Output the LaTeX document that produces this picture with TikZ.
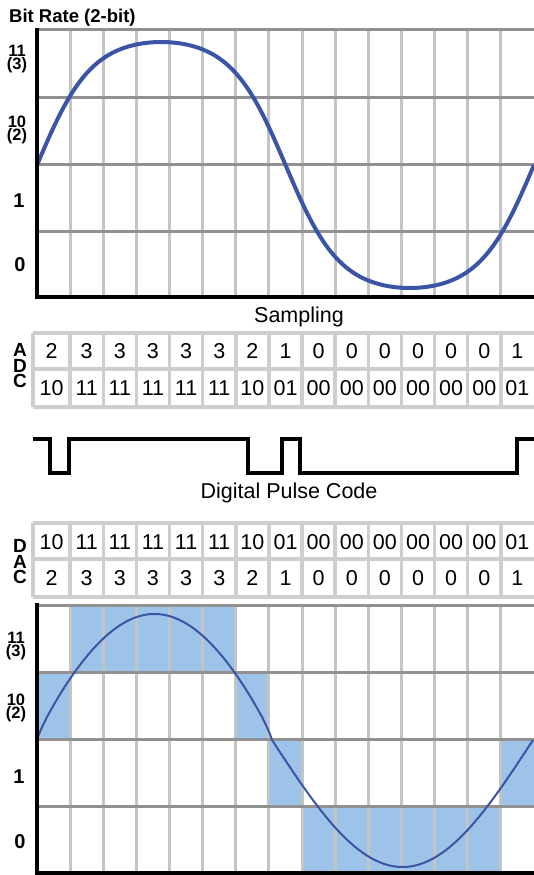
\documentclass[tikz,border=0pt]{standalone}
\usepackage{fontspec}
\setmainfont{Liberation Sans}
\definecolor{gridlight}{RGB}{196,196,196}
\definecolor{griddark}{RGB}{145,145,145}
\definecolor{cellgray}{RGB}{206,206,206}
\definecolor{wave}{RGB}{58,84,166}
\definecolor{sampleblue}{RGB}{157,196,232}

\begin{document}
\begin{tikzpicture}[x=1pt, y=-1pt,
  vline/.style={gridlight, line width=3pt},
  hline/.style={griddark, line width=3pt},
  axisline/.style={black, line width=3.5pt, line join=miter},
  cellline/.style={cellgray, line width=3.5pt},
  pulseline/.style={black, line width=3.5pt, line join=miter},
  bandlbl/.style={font=\bfseries\fontsize{16.5}{13}\selectfont, inner sep=0pt, align=center},
  bandlblbig/.style={font=\bfseries\fontsize{20}{20}\selectfont, inner sep=0pt, anchor=base},
  caplbl/.style={font=\fontsize{21.5}{21.5}\selectfont, inner sep=0pt, anchor=base},
  cellnum/.style={font=\fontsize{21.5}{21.5}\selectfont, inner sep=0pt},
  sidechar/.style={font=\bfseries\fontsize{19}{15.5}\selectfont, inner sep=0pt, align=center}]
\useasboundingbox (0,0) rectangle (534,875);

% ===== TOP chart (analog signal) =====
\node[font=\bfseries\fontsize{18.5}{18.5}\selectfont, inner sep=0pt, anchor=base west] (title) at (9,23) {Bit Rate (2-bit)};
% grid
\foreach \k in {1,...,14}
  \draw[vline] ({37+\k*497/15},30) -- ({37+\k*497/15},297);
\foreach \yy in {30,97,164,231}
  \draw[hline] (37,\yy) -- (534,\yy);
% analog wave
\draw[wave, line width=4pt] plot[domain=37:534, samples=241]
  (\x,{165-123*tanh(1.3*sin((\x-37)/497*360))/tanh(1.3)});
% axes
\draw[axisline] (37,28) -- (37,297) -- (535,297);
% level labels
\node[bandlbl] (top-l3) at (17,59) {11\\(3)};
\node[bandlbl] (top-l2) at (17,130) {10\\(2)};
\node[bandlblbig] (top-l1) at (19,207) {1};
\node[bandlblbig] (top-l0) at (20,271) {0};

\node[caplbl] (sampling) at (299,322) {Sampling};

% ===== ADC / DAC tables =====
\foreach \yy in {333,369,407,523,559,597}
  \draw[cellline] (33,\yy) -- (536,\yy);
\draw[cellline] (33,333) -- (33,407);
\draw[cellline] (33,523) -- (33,597);
\foreach \k in {1,...,14} {
  \draw[cellline] ({37+\k*497/15},333) -- ({37+\k*497/15},407);
  \draw[cellline] ({37+\k*497/15},523) -- ({37+\k*497/15},597);
}
% side letters
\node[sidechar] (adc-side) at (20,366) {A\\D\\C};
\node[sidechar] (dac-side) at (20,562) {D\\A\\C};
% sample values
\foreach \k/\lev/\code in {1/2/10,2/3/11,3/3/11,4/3/11,5/3/11,6/3/11,7/2/10,8/1/01,
                           9/0/00,10/0/00,11/0/00,12/0/00,13/0/00,14/0/00,15/1/01} {
  \pgfmathsetmacro{\cx}{37+(\k-0.5)*497/15-2*(\k==1)}
  \node[cellnum] (adc-lev-\k) at (\cx,351) {\lev};
  \node[cellnum] (adc-code-\k) at (\cx,388) {\code};
  \node[cellnum] (dac-code-\k) at (\cx,542) {\code};
  \node[cellnum] (dac-lev-\k) at (\cx,578) {\lev};
}

% ===== pulse code =====
\draw[pulseline] (33,439) -- (50,439) -- (50,473) -- (69,473) -- (69,439) -- (248,439)
  -- (248,473) -- (282,473) -- (282,439) -- (300,439) -- (300,473) -- (517,473)
  -- (517,439) -- (536,439);
\node[caplbl] (pulse-code) at (289,498) {Digital Pulse Code};

% ===== BOTTOM chart (rebuilt signal) =====
% sampled levels
\foreach \k/\lev in {1/2,2/3,3/3,4/3,5/3,6/3,7/2,8/1,9/0,10/0,11/0,12/0,13/0,14/0,15/1}
  \fill[sampleblue] ({37+(\k-1)*497/15},{605+(3-\lev)*67}) rectangle ++(497/15,67);
% grid
\foreach \k in {1,...,14}
  \draw[vline] ({37+\k*497/15},605) -- ({37+\k*497/15},873);
\foreach \yy in {605,672,739,806}
  \draw[hline] (37,\yy) -- (534,\yy);
% wave
\draw[wave, line width=2pt] plot[domain=37:272, samples=120]
  (\x,{740-126*pow(sin((\x-37)/235*180)+0.0001,0.85)})
  -- plot[domain=272:533, samples=120] (\x,{740+127*sin((\x-272)/261*180)});
% axes
\draw[axisline] (37,603) -- (37,873) -- (535,873);
% level labels
\node[bandlbl] (bot-l3) at (16,646) {11\\(3)};
\node[bandlbl] (bot-l2) at (16,708) {10\\(2)};
\node[bandlblbig] (bot-l1) at (19,783) {1};
\node[bandlblbig] (bot-l0) at (20,848) {0};
\end{tikzpicture}
\end{document}
